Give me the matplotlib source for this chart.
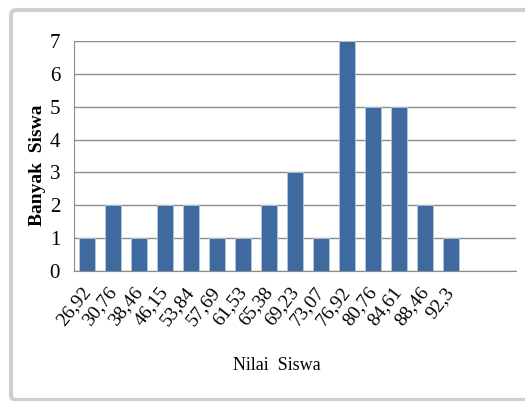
import matplotlib.pyplot as plt
from matplotlib.patches import FancyBboxPatch
import numpy as np

# data histogram nilai siswa
kelas = ['26,92', '30,76', '38,46', '46,15', '53,84', '57,69', '61,53', '65,38',
         '69,23', '73,07', '76,92', '80,76', '84,61', '88,46', '92,3']
banyak = [1, 2, 1, 2, 2, 1, 1, 2, 3, 1, 7, 5, 5, 2, 1]

plt.rcParams['font.family'] = ['Liberation Serif', 'DejaVu Serif']

fig = plt.figure(figsize=(5.25, 4.01), dpi=100)

# bingkai chart ala excel (kanan keluar gambar)
frame = FancyBboxPatch((11/525, 1/401), 530/525, 390/401,
                       boxstyle='round,pad=0,rounding_size=0.012',
                       transform=fig.transFigure, facecolor='white',
                       edgecolor='#cfcfcf', linewidth=3, zorder=-2)
fig.patches.append(frame)

ax = fig.add_axes([74/525, 1 - 271/401, 442/525, 230/401])
ax.set_zorder(2)
ax.patch.set_alpha(0)
x = np.arange(len(kelas))
ax.bar(x, banyak, width=0.65, color='#3f6a9f', edgecolor='#b8c8dc', linewidth=0.6, zorder=3)

ax.set_xlim(-0.5, 16.5)
ax.set_ylim(0, 7)
ax.set_yticks(range(8))
ax.set_xticks(x)
ax.set_xticklabels(kelas, rotation=52, ha='right', va='center', rotation_mode='anchor', fontsize=14)
ax.tick_params(axis='y', labelsize=15, length=0, pad=10)
ax.tick_params(axis='x', length=0, pad=13)
ax.grid(axis='y', color='#8c8c8c', linewidth=1, zorder=0)

for s in ['top', 'right']:
    ax.spines[s].set_visible(False)
ax.spines['left'].set_color('#8c8c8c')
ax.spines['bottom'].set_color('#8c8c8c')

fig.text(277/525, 1 - 366/401, 'Nilai  Siswa', fontsize=13, ha='center', va='center')
fig.text(37/525, 1 - 165/401, 'Banyak  Siswa', fontsize=14, fontweight='bold',
         rotation=90, ha='center', va='center')

fig.savefig('out.png', dpi=100)
